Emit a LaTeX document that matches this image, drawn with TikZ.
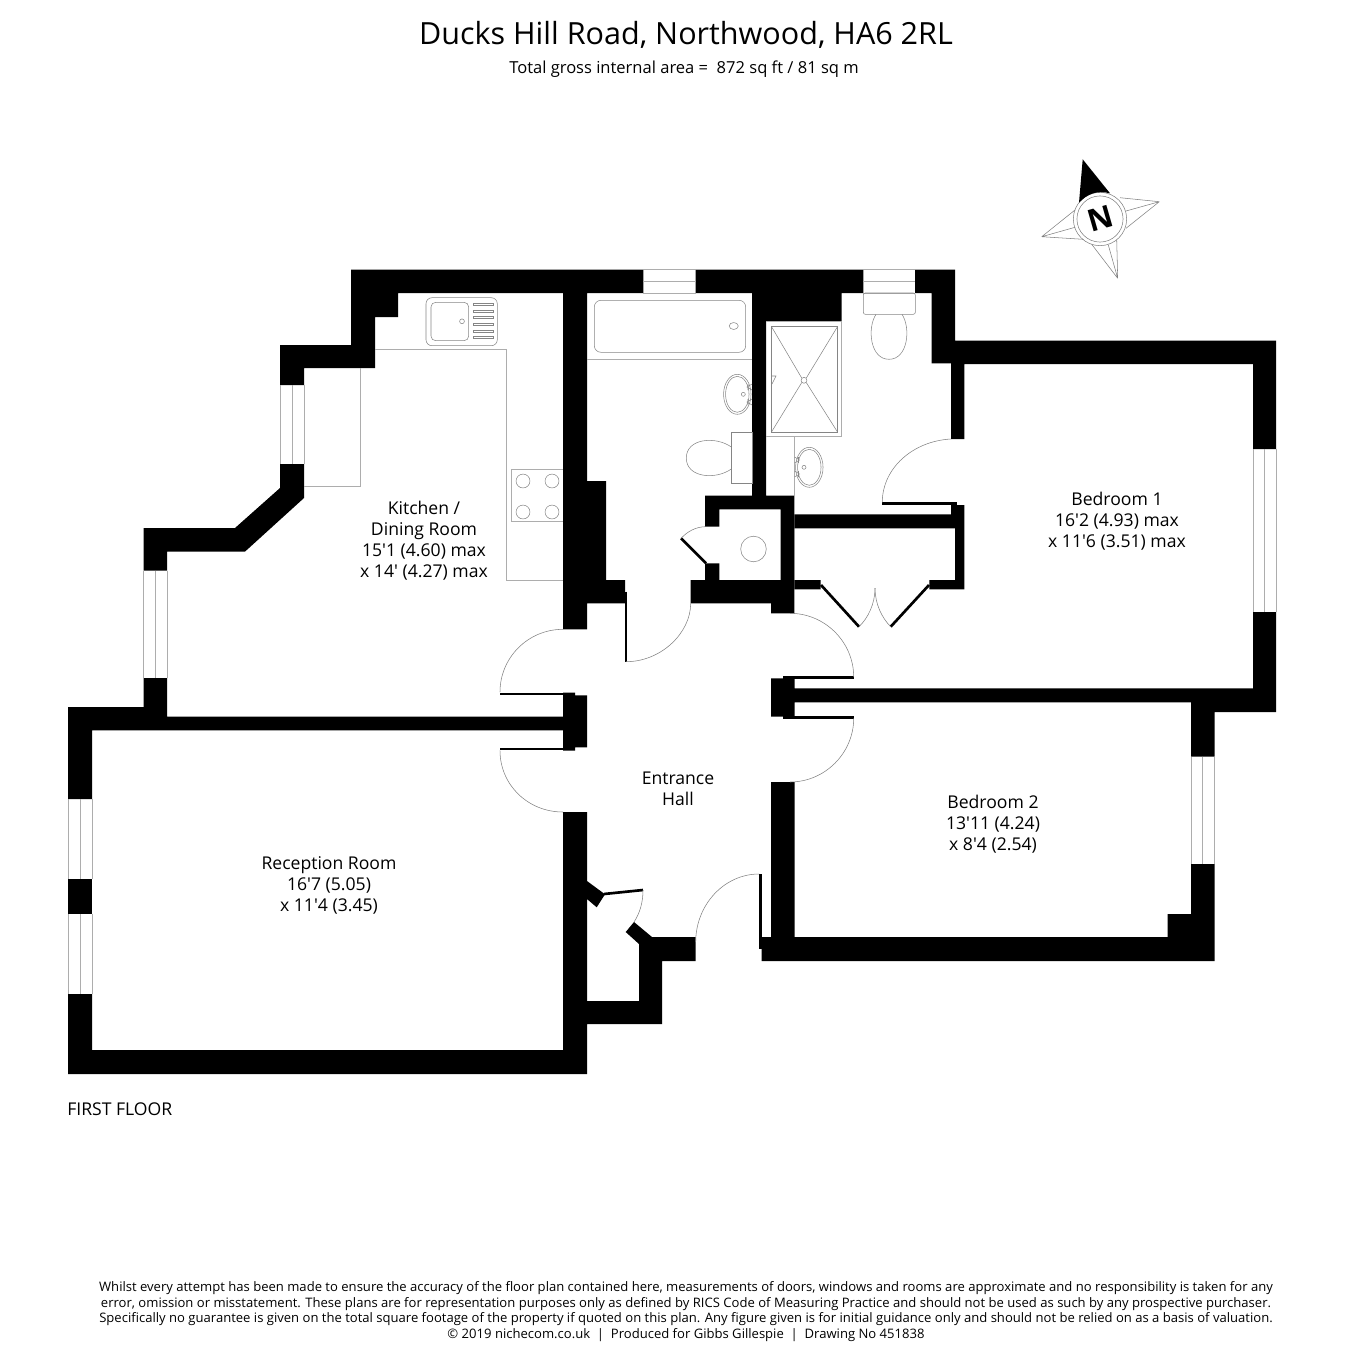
\documentclass[tikz,border=0pt]{standalone}
\usepackage{fontspec}
\setmainfont{Open Sans}[Ligatures=TeXOff]
\begin{document}
\begin{tikzpicture}[
    x=0.75pt,
    y=-0.75pt,
    line join=miter
]

\tikzstyle{wall}=[fill=black]
\tikzstyle{glass}=[draw=black!32, line width=0.6pt]
\tikzstyle{fitting}=[draw=black!48, line width=0.4pt]
\tikzstyle{swing}=[draw=black!50, line width=0.4pt]
\tikzstyle{leaf}=[draw=black, line width=2pt]
\tikzstyle{room}=[align=center, inner sep=0pt, font=\fontsize{13.2}{15.75}\selectfont]

\useasboundingbox (0,0) rectangle (1350,1350);

% walls
\fill[wall] (351,269.5) -- (643.3,269.5) -- (643.3,293) -- (587,293) -- (587,481) -- (606,481) -- (606,580) -- (625,580) -- (625,603.3) -- (587,603.3) -- (587,629.3) -- (563,629.3) -- (563,293) -- (398,293) -- (398,317) -- (375,317) -- (375,368) -- (304,368) -- (304,385) -- (280,385) -- (280,345) -- (351,345) -- cycle;
\fill[wall] (695.7,269.5) -- (863.3,269.5) -- (863.3,293) -- (841.7,293) -- (841.7,321.7) -- (766,321.7) -- (766,495.7) -- (794.3,495.7) -- (794.3,613.3) -- (771,613.3) -- (771,603.3) -- (690.7,603.3) -- (690.7,580) -- (705,580) -- (705,563.3) -- (719.3,563.3) -- (719.3,580) -- (780.7,580) -- (780.7,509.3) -- (719.3,509.3) -- (719.3,526.7) -- (705,526.7) -- (705,495.7) -- (752,495.7) -- (752,293) -- (695.7,293) -- cycle;
\fill[wall] (915,269.5) -- (955,269.5) -- (955,340.5) -- (1276,340.5) -- (1276,449) -- (1253,449) -- (1253,364) -- (964.3,364) -- (964.3,439) -- (951,439) -- (951,363.3) -- (931.7,363.3) -- (931.7,293) -- (915,293) -- cycle;
\fill[wall] (794.3,514.3) -- (951,514.3) -- (951,505) -- (964.3,505) -- (964.3,589.3) -- (929.3,589.3) -- (929.3,580) -- (955,580) -- (955,528.3) -- (794.3,528.3) -- (794.3,580) -- (820.7,580) -- (820.7,589.3) -- (794.3,589.3) -- cycle;
\fill[wall] (1253,612) -- (1276,612) -- (1276,712) -- (1214.7,712) -- (1214.7,756.5) -- (1191,756.5) -- (1191,702.3) -- (794.7,702.3) -- (794.7,716.7) -- (771,716.7) -- (771,678.3) -- (794.7,678.3) -- (794.7,688.3) -- (1253,688.3) -- cycle;
\fill[wall] (771,782) -- (794.7,782) -- (794.7,937) -- (1167.7,937) -- (1167.7,914) -- (1191,914) -- (1191,864) -- (1214.7,864) -- (1214.7,961) -- (761.7,961) -- (761.7,937) -- (771,937) -- cycle;
\fill[wall] (143.5,678) -- (167,678) -- (167,716.7) -- (563,716.7) -- (563,692.7) -- (575,692.7) -- (575,695.3) -- (587,695.3) -- (587,747.3) -- (575,747.3) -- (575,750.5) -- (563,750.5) -- (563,730.3) -- (92,730.3) -- (92,799) -- (68,799) -- (68,707) -- (143.5,707) -- cycle;
\fill[wall] (68,879) rectangle (92,914);
\fill[wall] (563,812) -- (587,812) -- (587,881) -- (605,894.3) -- (596.7,907.3) -- (587,899) -- (587,1001) -- (639,1001) -- (639,944) -- (625.7,932) -- (634,922) -- (652,937) -- (695.7,937) -- (695.7,961) -- (662,961) -- (662,1024) -- (587,1024) -- (587,1074) -- (68,1074) -- (68,994) -- (92,994) -- (92,1050) -- (563,1050) -- cycle;
\fill[wall] (280,464) -- (304,464) -- (304,498) -- (245,551.6) -- (167,551.6) -- (167,570.6) -- (143.5,570.6) -- (143.5,528) -- (235,528) -- (280,488) -- cycle;

% windows
\draw[glass] (643.3,269.5) -- (695.7,269.5) (643.3,281.7) -- (695.7,281.7) (643.3,293) -- (695.7,293);
\draw[glass] (863.3,269.5) -- (915,269.5) (863.3,281.7) -- (915,281.7) (863.3,293) -- (915,293);
\draw[glass] (280,385) -- (280,464) (292,385) -- (292,464) (304,385) -- (304,464);
\draw[glass] (143.5,570.6) -- (143.5,678) (155.5,570.6) -- (155.5,678) (167,570.6) -- (167,678);
\draw[glass] (68,799) -- (68,879) (80,799) -- (80,879) (92,799) -- (92,879);
\draw[glass] (68,914) -- (68,994) (80,914) -- (80,994) (92,914) -- (92,994);
\draw[glass] (1253,449) -- (1253,612) (1264.5,449) -- (1264.5,612) (1276,449) -- (1276,612);
\draw[glass] (1191,756.5) -- (1191,864) (1202.7,756.5) -- (1202.7,864) (1214.7,756.5) -- (1214.7,864);

% door leaves
\draw[leaf] (500,694) -- (563,694);
\draw[leaf] (500,749) -- (563,749);
\draw[leaf] (783,677.5) -- (853.7,677.5);
\draw[leaf] (783,717.5) -- (853.7,717.5);
\draw[leaf] (626,591.7) -- (626,661.7);
\draw[leaf] (882.3,503.6) -- (957,503.6);
\draw[leaf] (604,894) -- (643,890);
\draw[leaf] (760.3,874) -- (760.3,949);
\draw[leaf] (681,538.3) -- (706,563.3);
\draw[leaf] (821,585) -- (859,626.7);
\draw[leaf] (929,585) -- (890.7,626.7);

% door swings
\draw[swing] (563,629.3) .. controls (528,629.3) and (500,657.6) .. (500,692);
\draw[swing] (500,750.5) .. controls (500,785) and (528,812) .. (563,812);
\draw[swing] (626,661.7) .. controls (661,661.7) and (690.7,633) .. (690.7,603.3);
\draw[swing] (790,613.3) .. controls (825,613.3) and (853.7,642) .. (853.7,677);
\draw[swing] (853.7,718.3) .. controls (853.7,753) and (825,782) .. (790,782);
\draw[swing] (759,874) .. controls (724,874) and (695.7,905) .. (695.7,942);
\draw[swing] (643,890) .. controls (643,902) and (640,913) .. (634,922);
\draw[swing] (681,538.3) .. controls (688,531) and (696,527) .. (705,526.7);
\draw[swing] (951,439) .. controls (913,441) and (882.3,468) .. (882.3,502.3);
\draw[swing] (859,626.7) .. controls (868,618) and (875,604) .. (875,588);
\draw[swing] (890.7,626.7) .. controls (882,618) and (875,604) .. (875,588);

% kitchen units
\draw[glass] (375,349.3) -- (506.7,349.3) -- (506.7,580) -- (563,580);
\draw[glass] (360.5,368) -- (360.5,486.5) -- (304,486.5);
\draw[fitting,rounded corners=4.5pt] (426,297.7) -- (497.3,297.7) -- (497.3,345.7) -- (426,345.7) -- cycle;
\draw[fitting,rounded corners=3.5pt] (431,302.3) -- (468.7,302.3) -- (468.7,340.7) -- (431,340.7) -- cycle;
\draw[fitting] (462,321.3) circle (1.8pt);
\draw[fitting] (473.3,303.5) rectangle (493.3,305.5) (473.3,310) rectangle (493.3,312) (473.3,316.7) rectangle (493.3,318.7) (473.3,323.3) rectangle (493.3,325.3) (473.3,330) rectangle (493.3,332) (473.3,336.7) rectangle (493.3,338.7);
\draw[glass] (563,469.3) -- (511.7,469.3) -- (511.7,521.3) -- (563,521.3);
\draw[fitting] (523,481) circle (5.2pt) (552,481) circle (5.2pt) (523,512) circle (5.2pt) (552,512) circle (5.2pt);

% bathroom
\draw[glass] (587,359.3) -- (752,359.3);
\draw[fitting,rounded corners=5pt] (594.3,300.3) -- (745.7,300.3) -- (745.7,352.3) -- (594.3,352.3) -- cycle;
\draw[fitting] (733.7,326) ellipse (3.4pt and 2.6pt);
\draw[fitting] (737.3,394.3) ellipse (10.3pt and 15pt) ellipse (8.8pt and 13.5pt);
\draw[fitting] (743.3,394.3) circle (1.5pt);
\draw[fitting] (752,384) -- (747,387) -- (752,390) (748,384) -- (748,390) (752,399) -- (747,402) -- (752,405) (748,399) -- (748,405);
\draw[fitting] (731.3,432.3) rectangle (752,483.3);
\draw[fitting] (731.3,447) .. controls (716,436) and (686.3,438) .. (686.3,458) .. controls (686.3,478) and (716,480) .. (731.3,469);

% shower room
\draw[glass] (766,321.7) -- (841.7,321.7) -- (841.7,436) -- (766,436);
\draw[glass] (794.3,436) -- (794.3,495.7);
\draw[fitting] (771.3,326.3) rectangle (837.7,432.3);
\draw[fitting] (804,380.3) circle (2.2pt);
\draw[fitting] (771.3,326.3) -- (801.7,378) (837.7,326.3) -- (806.3,378) (771.3,432.3) -- (801.7,382.6) (837.7,432.3) -- (806.3,382.6);
\draw[fitting] (771.5,376) -- (776,376) -- (772,384);
\draw[fitting] (809.3,467.3) ellipse (10.3pt and 15pt) ellipse (8.8pt and 13.5pt);
\draw[fitting] (804,467.3) circle (1.5pt);
\draw[fitting] (794.5,457) -- (799.5,460) -- (794.5,463) (798.5,457) -- (798.5,463) (794.5,471) -- (799.5,474) -- (794.5,477) (798.5,471) -- (798.5,477);
\draw[fitting,rounded corners=1.5pt] (863.3,293) -- (915.3,293) -- (915.3,314.3) -- (863.3,314.3) -- cycle;
\draw[fitting] (876,314.3) .. controls (867,328) and (870,359.3) .. (889,359.3) .. controls (908,359.3) and (911,328) .. (902,314.3);

% cupboard
\draw[fitting] (753.5,549) circle (9.6pt);

% north point
\draw[swing] (1100,219) circle (20pt) circle (17.3pt);
\draw[swing] (1159.3,201.7) -- (1120,197.7) (1159.3,201.7) -- (1126,228.3) (1159.3,201.7) -- (1126,211);
\draw[swing] (1117.7,278.3) -- (1091.7,244.3) (1117.7,278.3) -- (1116.7,240) (1117.7,278.3) -- (1108.3,245);
\draw[swing] (1041.7,236.7) -- (1075,210) (1041.7,236.7) -- (1083.3,239.3) (1041.7,236.7) -- (1075,227.3);
\fill[wall] (1082.7,159.3) -- (1110,193.3) .. controls (1097,190) and (1087,194) .. (1079,202.7) -- cycle;
\node[inner sep=0pt, rotate=16, font=\fontsize{23}{23}\selectfont\bfseries] (northmark) at (1100.5,219) {N};

% labels
\node[inner sep=0pt, font=\fontsize{22.9}{28}\selectfont] (title) at (686,35) {Ducks Hill Road, Northwood, HA6 2RL};
\node[inner sep=0pt, font=\fontsize{12.4}{15}\selectfont] (area) at (684,69) {Total gross internal area =\ \ 872 sq ft / 81 sq m};
\node[room] (kitchen) at (424,540.5) {Kitchen /\\Dining Room\\15'1 (4.60) max\\x 14' (4.27) max};
\node[room] (bed1) at (1117,521) {Bedroom 1\\16'2 (4.93) max\\x 11'6 (3.51) max};
\node[room] (bed2) at (993,824) {Bedroom 2\\13'11 (4.24)\\x 8'4 (2.54)};
\node[room] (hall) at (678,788.5) {Entrance\\Hall};
\node[room] (reception) at (329,885) {Reception Room\\16'7 (5.05)\\x 11'4 (3.45)};
\node[room, anchor=west] (floor) at (67,1109) {FIRST FLOOR};
\node[align=center, inner sep=0pt, font=\fontsize{9.8}{11.7}\selectfont] (disclaimer) at (686,1311.5) {Whilst every attempt has been made to ensure the accuracy of the floor plan contained here, measurements of doors, windows and rooms are approximate and no responsibility is taken for any\\error, omission or misstatement. These plans are for representation purposes only as defined by RICS Code of Measuring Practice and should not be used as such by any prospective purchaser.\\Specifically no guarantee is given on the total square footage of the property if quoted on this plan. Any figure given is for initial guidance only and should not be relied on as a basis of valuation.\\© 2019 nichecom.co.uk\ \ |\ \ Produced for Gibbs Gillespie\ \ |\ \ Drawing No 451838};

\end{tikzpicture}
\end{document}
